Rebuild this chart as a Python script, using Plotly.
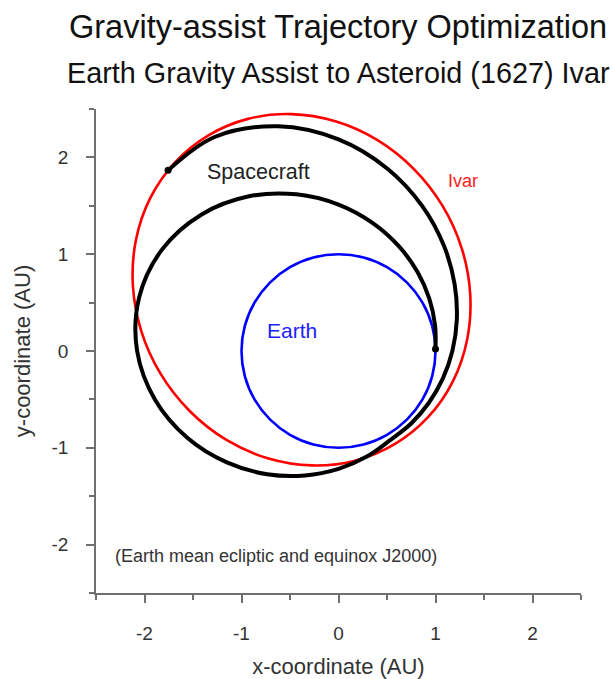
import plotly.graph_objects as go

# Earth orbit
earth_x = [1.0, 0.966, 0.866, 0.707, 0.5, 0.259, 0.0, -0.259, -0.5, -0.707, -0.866, -0.966,
           -1.0, -0.966, -0.866, -0.707, -0.5, -0.259, 0.0, 0.259, 0.5, 0.707, 0.866, 0.966, 1.0]
earth_y = [0.0, 0.259, 0.5, 0.707, 0.866, 0.966, 1.0, 0.966, 0.866, 0.707, 0.5, 0.259,
           0.0, -0.259, -0.5, -0.707, -0.866, -0.966, -1.0, -0.966, -0.866, -0.707, -0.5, -0.259, 0.0]

# Ivar orbit
ivar_x = [0.579, 0.923, 1.178, 1.326, 1.358, 1.272, 1.073, 0.775, 0.398, -0.032, -0.486, -0.933,
          -1.341, -1.685, -1.940, -2.088, -2.120, -2.034, -1.835, -1.537, -1.160, -0.730, -0.276,
          0.171, 0.579]
ivar_y = [-0.963, -0.684, -0.316, 0.117, 0.585, 1.056, 1.499, 1.882, 2.181, 2.373, 2.447, 2.398,
          2.228, 1.949, 1.581, 1.148, 0.680, 0.209, -0.234, -0.617, -0.916, -1.108, -1.182,
          -1.133, -0.963]

# Spacecraft trajectory: departure loop, then post-flyby arc to Ivar
sc_x = [1.0, 0.995, 0.936, 0.815, 0.624, 0.354, 0.0, -0.434, -0.923, -1.411, -1.818, -2.056,
        -2.076, -1.890, -1.556, -1.151, -0.735, -0.345, 0.0, 0.292, 0.532,
        0.749, 0.930, 1.074, 1.174, 1.220, 1.197, 1.087, 0.864, 0.505, 0.0, -0.622, -1.277,
        -1.757]
sc_y = [0.02, 0.267, 0.540, 0.815, 1.081, 1.322, 1.513, 1.619, 1.598, 1.411, 1.050, 0.551,
        0.0, -0.506, -0.899, -1.151, -1.273, -1.286, -1.218, -1.091, -0.921,
        -0.749, -0.537, -0.288, 0.0, 0.327, 0.691, 1.087, 1.497, 1.883, 2.186, 2.321, 2.211,
        1.866]

# Event points: Earth departure and arrival at Ivar
event_x = [1.0, -1.757]
event_y = [0.02, 1.866]

ticks = [-2, -1, 0, 1, 2]
tick_labels = ["-2", "-1", "0", "1", "2"]

FONT = "Liberation Sans, Arial, sans-serif"

fig = go.Figure()
fig.add_trace(go.Scatter(x=earth_x, y=earth_y, mode="lines",
                         line=dict(color="#0000ff", width=2.6, shape="spline", smoothing=1.0),
                         hoverinfo="skip"))
fig.add_trace(go.Scatter(x=ivar_x, y=ivar_y, mode="lines",
                         line=dict(color="#ff0000", width=2.6, shape="spline", smoothing=1.0),
                         hoverinfo="skip"))
fig.add_trace(go.Scatter(x=sc_x, y=sc_y, mode="lines",
                         line=dict(color="#000000", width=4, shape="spline", smoothing=1.0),
                         hoverinfo="skip"))
fig.add_trace(go.Scatter(x=event_x, y=event_y, mode="markers",
                         marker=dict(color="#000000", size=7),
                         hoverinfo="skip"))

axis_common = dict(
    range=[-2.5, 2.5], showgrid=False, zeroline=False, showline=True, automargin=False,
    linecolor="#707070", linewidth=1.5, ticks="outside", ticklen=8, tickwidth=1.5,
    tickcolor="#707070", tickvals=ticks, ticktext=tick_labels,
    tickfont=dict(family=FONT, size=19, color="#333333"),
    ticklabelstandoff=14,
    minor=dict(ticks="outside", ticklen=5, tickwidth=1.5, tickcolor="#707070", dtick=0.5,
               tick0=0, showgrid=False),
)

fig.update_layout(
    width=613, height=679, showlegend=False,
    plot_bgcolor="white", paper_bgcolor="white",
    margin=dict(l=96, r=32, t=109, b=86, autoexpand=False),
    xaxis=dict(axis_common, title=dict(text="x-coordinate (AU)", standoff=20,
                                       font=dict(family=FONT, size=22, color="#333333"))),
    yaxis=dict(axis_common, title=dict(text="y-coordinate (AU)", standoff=15,
                                       font=dict(family=FONT, size=22, color="#333333"))),
    annotations=[
        dict(text="Gravity-assist Trajectory Optimization", xref="paper", yref="paper",
             x=0.499, y=1.169, xanchor="center", yanchor="middle", showarrow=False,
             font=dict(family=FONT, size=32.5, color="#111111")),
        dict(text="Earth Gravity Assist to Asteroid (1627) Ivar", xref="paper", yref="paper",
             x=0.499, y=1.0754, xanchor="center", yanchor="middle", showarrow=False,
             font=dict(family=FONT, size=28.8, color="#111111")),
        dict(text="Spacecraft", x=-0.82, y=1.845, xref="x", yref="y", showarrow=False,
             font=dict(family=FONT, size=21.5, color="#222222")),
        dict(text="Earth", x=-0.48, y=0.21, xref="x", yref="y", showarrow=False,
             font=dict(family=FONT, size=21, color="#2020ff")),
        dict(text="Ivar", x=1.287, y=1.76, xref="x", yref="y", showarrow=False,
             font=dict(family=FONT, size=18, color="#ff2020")),
        dict(text="(Earth mean ecliptic and equinox J2000)", x=-0.64, y=-2.12, xref="x", yref="y",
             showarrow=False, font=dict(family=FONT, size=18, color="#333333")),
    ],
)

fig.write_html("out.html")
